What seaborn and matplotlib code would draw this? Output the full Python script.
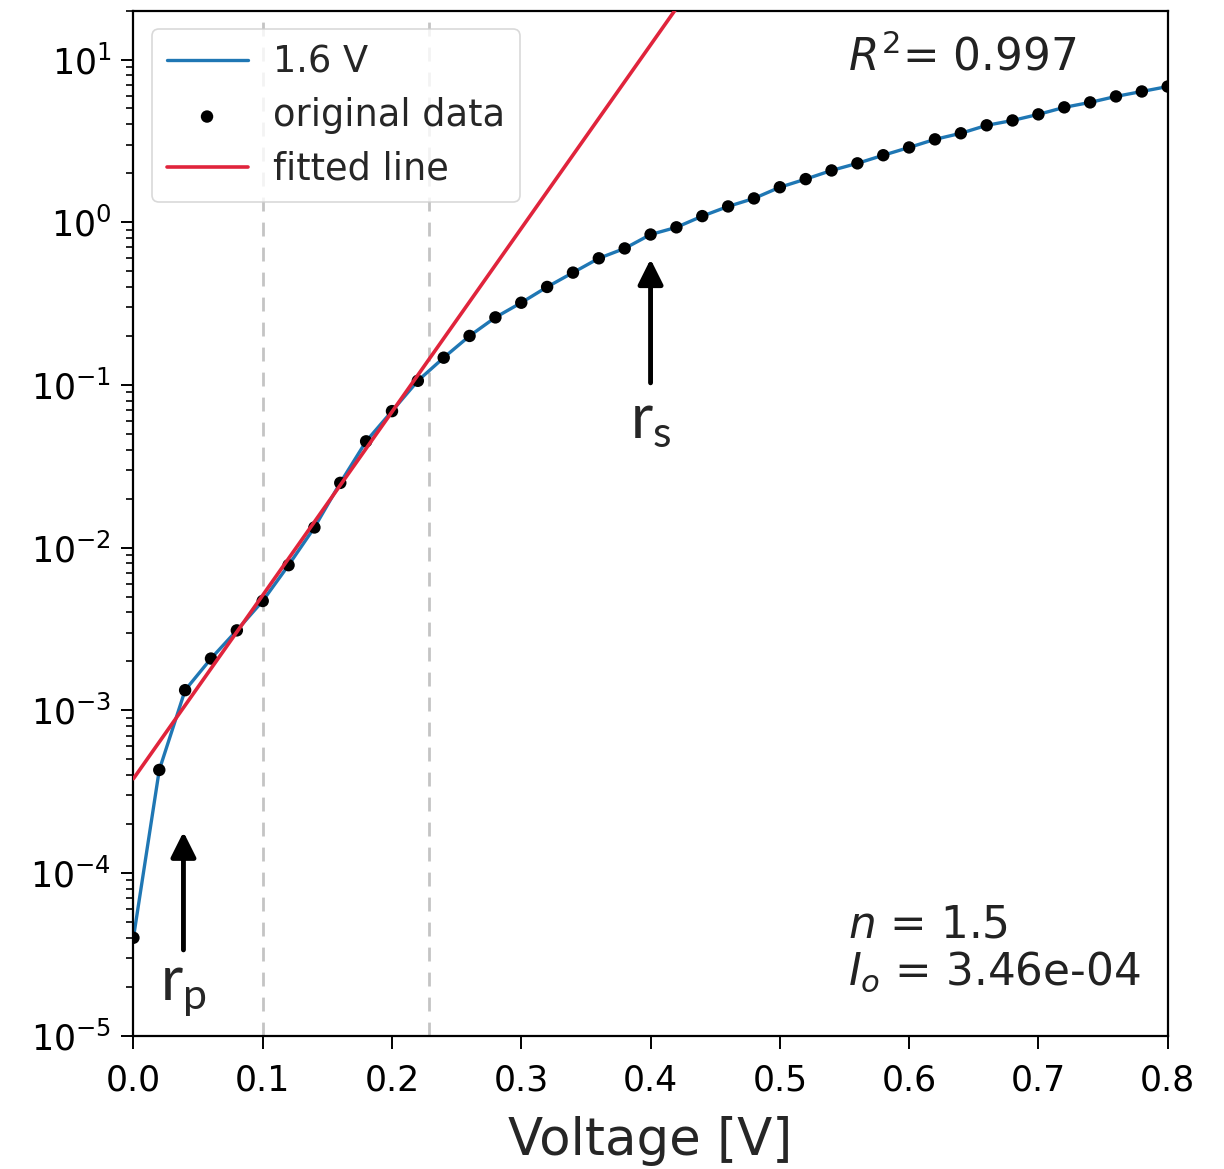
import numpy as np
import pandas as pd
import matplotlib
matplotlib.use("Agg")
import matplotlib.pyplot as plt
import seaborn as sns

# ölçülen I-V verisi (log eksen)
voltage = [0.00, 0.02, 0.04, 0.06, 0.08, 0.10, 0.12, 0.14, 0.16, 0.18,
           0.20, 0.22, 0.24, 0.26, 0.28, 0.30, 0.32, 0.34, 0.36, 0.38,
           0.40, 0.42, 0.44, 0.46, 0.48, 0.50, 0.52, 0.54, 0.56, 0.58,
           0.60, 0.62, 0.64, 0.66, 0.68, 0.70, 0.72, 0.74, 0.76, 0.78, 0.80]
current = [4.0e-5, 4.3e-4, 1.33e-3, 2.08e-3, 3.1e-3, 4.7e-3, 7.8e-3, 1.33e-2, 2.5e-2, 4.5e-2,
           6.9e-2, 0.106, 0.147, 0.20, 0.26, 0.32, 0.40, 0.49, 0.60, 0.69,
           0.84, 0.93, 1.09, 1.25, 1.40, 1.64, 1.84, 2.08, 2.30, 2.58,
           2.88, 3.23, 3.52, 3.94, 4.22, 4.60, 5.08, 5.45, 5.93, 6.36, 6.82]

# fit doğrusu (log eksende düz çizgi, iki uç nokta)
fit_v = [0.0, 0.45]
fit_i = [3.8e-4, 45.0]

# fit aralığı sınırları
fit_bounds = [0.1, 0.229]

xticks = [0.0, 0.1, 0.2, 0.3, 0.4, 0.5, 0.6, 0.7, 0.8]

r2_text = "$R^2$= 0.997"
n_text = "$n$ = 1.5"
io_text = "$I_o$ = 3.46e-04"

df = pd.DataFrame({"V": voltage, "I": current})
df_fit = pd.DataFrame({"V": fit_v, "I": fit_i})

sns.set_theme(style="ticks", rc={
    "axes.edgecolor": "black",
    "axes.linewidth": 1.6,
    "xtick.major.size": 9,
    "ytick.major.size": 9,
    "ytick.minor.size": 5,
    "xtick.major.width": 1.4,
    "ytick.major.width": 1.4,
    "ytick.minor.width": 1.2,
    "xtick.color": "black",
    "ytick.color": "black",
})
plt.rcParams["font.family"] = ["DejaVu Sans"]

fig = plt.figure(figsize=(12.24, 11.69), dpi=100)
ax = fig.add_axes([0.109, 0.114, 0.845, 0.877])

for xb in fit_bounds:
    ax.axvline(xb, color="#c4c4c4", ls="--", lw=2, dashes=(5, 4), zorder=1)

sns.lineplot(data=df, x="V", y="I", ax=ax, color="#1f77b4", lw=2.4,
             label="1.6 V", zorder=2)
sns.scatterplot(data=df, x="V", y="I", ax=ax, color="black", s=80,
                edgecolor="none", label="original data", zorder=3)
sns.lineplot(data=df_fit, x="V", y="I", ax=ax, color="#e0243c", lw=2.6,
             label="fitted line", zorder=4)

ax.set_yscale("log")
ax.set_xlim(0, 0.8)
ax.set_ylim(1e-5, 20)
ax.set_xticks(xticks)
ax.set_xticklabels([f"{t:.1f}" for t in xticks])
ax.tick_params(axis="both", labelsize=25)
ax.tick_params(axis="x", pad=11)
ax.tick_params(axis="y", pad=7)
ax.set_xlabel("Voltage [V]", fontsize=37, labelpad=13)
ax.set_ylabel("")

leg = ax.legend(loc="upper left", fontsize=26.5, handlelength=2.2,
                handletextpad=0.7, frameon=True, framealpha=0.8,
                edgecolor="#d0d0d0", borderpad=0.4, labelspacing=0.45)
leg.get_frame().set_linewidth(1.2)

ax.text(0.691, 0.954, r2_text, transform=ax.transAxes, fontsize=31.5,
        ha="left", va="center", color="#222222")
ax.text(0.691, 0.108, n_text, transform=ax.transAxes, fontsize=31.5,
        ha="left", va="center", color="#222222")
ax.text(0.691, 0.062, io_text, transform=ax.transAxes, fontsize=31.5,
        ha="left", va="center", color="#222222")

# ok işaretleri
arrow = dict(arrowstyle="-|>", color="black", lw=3.5, mutation_scale=38,
             shrinkA=0, shrinkB=0)
ax.annotate("", xy=(0.0387, 1.79e-4), xytext=(0.0387, 3.37e-5), arrowprops=arrow)
ax.annotate("", xy=(0.400, 0.593), xytext=(0.400, 0.103), arrowprops=arrow)
ax.text(0.0387, 1.9e-5, r"r$_\mathregular{p}$", fontsize=44, family="Lato",
        ha="center", va="center")
ax.text(0.400, 0.060, r"r$_\mathregular{s}$", fontsize=44, family="Lato",
        ha="center", va="center")

fig.savefig("out.png", dpi=100)
